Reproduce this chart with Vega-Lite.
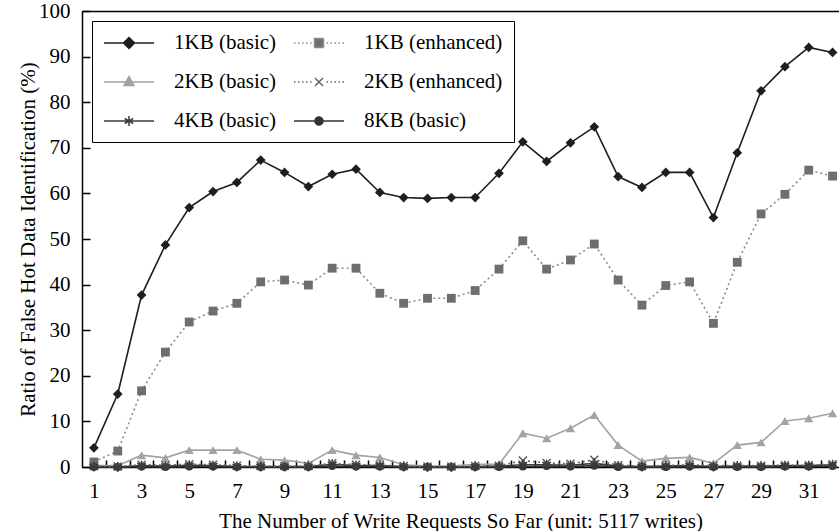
{
  "$schema": "https://vega.github.io/schema/vega-lite/v6.json",
  "width": 757,
  "height": 456,
  "autosize": {"type": "none"},
  "padding": {"left": 82, "top": 11, "right": 0, "bottom": 64},
  "background": "white",
  "config": {
    "font": "Liberation Serif",
    "view": {"stroke": null},
    "axis": {
      "labelFont": "Liberation Serif", "titleFont": "Liberation Serif",
      "labelFontSize": 21, "titleFontSize": 21, "labelColor": "black", "titleColor": "black",
      "titleFontWeight": "normal", "domainColor": "black", "domainWidth": 1.5,
      "tickColor": "black", "tickWidth": 1.5, "grid": false
    }
  },
  "data": {"values": [
    {"x": 1, "1KB (basic)": 4.2, "1KB (enhanced)": 1.1, "2KB (basic)": 0.3, "2KB (enhanced)": 0.2, "4KB (basic)": 0.1, "8KB (basic)": 0},
    {"x": 2, "1KB (basic)": 16.0, "1KB (enhanced)": 3.5, "2KB (basic)": 0.3, "2KB (enhanced)": 0.1, "4KB (basic)": 0, "8KB (basic)": 0},
    {"x": 3, "1KB (basic)": 37.7, "1KB (enhanced)": 16.7, "2KB (basic)": 2.6, "2KB (enhanced)": 0.5, "4KB (basic)": 0.3, "8KB (basic)": 0.1},
    {"x": 4, "1KB (basic)": 48.7, "1KB (enhanced)": 25.2, "2KB (basic)": 2.0, "2KB (enhanced)": 0.4, "4KB (basic)": 0.2, "8KB (basic)": 0},
    {"x": 5, "1KB (basic)": 56.9, "1KB (enhanced)": 31.8, "2KB (basic)": 3.7, "2KB (enhanced)": 0.6, "4KB (basic)": 0.4, "8KB (basic)": 0.1},
    {"x": 6, "1KB (basic)": 60.4, "1KB (enhanced)": 34.2, "2KB (basic)": 3.7, "2KB (enhanced)": 0.5, "4KB (basic)": 0.3, "8KB (basic)": 0.1},
    {"x": 7, "1KB (basic)": 62.4, "1KB (enhanced)": 35.9, "2KB (basic)": 3.7, "2KB (enhanced)": 0.3, "4KB (basic)": 0.1, "8KB (basic)": 0},
    {"x": 8, "1KB (basic)": 67.3, "1KB (enhanced)": 40.6, "2KB (basic)": 1.7, "2KB (enhanced)": 0.2, "4KB (basic)": 0.1, "8KB (basic)": 0},
    {"x": 9, "1KB (basic)": 64.6, "1KB (enhanced)": 41.0, "2KB (basic)": 1.5, "2KB (enhanced)": 0.2, "4KB (basic)": 0.1, "8KB (basic)": 0},
    {"x": 10, "1KB (basic)": 61.5, "1KB (enhanced)": 39.9, "2KB (basic)": 0.8, "2KB (enhanced)": 0.2, "4KB (basic)": 0.1, "8KB (basic)": 0},
    {"x": 11, "1KB (basic)": 64.2, "1KB (enhanced)": 43.6, "2KB (basic)": 3.7, "2KB (enhanced)": 0.8, "4KB (basic)": 0.6, "8KB (basic)": 0.2},
    {"x": 12, "1KB (basic)": 65.3, "1KB (enhanced)": 43.6, "2KB (basic)": 2.6, "2KB (enhanced)": 0.5, "4KB (basic)": 0.3, "8KB (basic)": 0.1},
    {"x": 13, "1KB (basic)": 60.2, "1KB (enhanced)": 38.1, "2KB (basic)": 2.1, "2KB (enhanced)": 0.4, "4KB (basic)": 0.3, "8KB (basic)": 0.1},
    {"x": 14, "1KB (basic)": 59.1, "1KB (enhanced)": 35.9, "2KB (basic)": 0.5, "2KB (enhanced)": 0.2, "4KB (basic)": 0.1, "8KB (basic)": 0},
    {"x": 15, "1KB (basic)": 58.9, "1KB (enhanced)": 37.0, "2KB (basic)": 0.2, "2KB (enhanced)": 0.1, "4KB (basic)": 0, "8KB (basic)": 0},
    {"x": 16, "1KB (basic)": 59.1, "1KB (enhanced)": 37.0, "2KB (basic)": 0.2, "2KB (enhanced)": 0.1, "4KB (basic)": 0, "8KB (basic)": 0},
    {"x": 17, "1KB (basic)": 59.1, "1KB (enhanced)": 38.7, "2KB (basic)": 0.6, "2KB (enhanced)": 0.2, "4KB (basic)": 0.1, "8KB (basic)": 0},
    {"x": 18, "1KB (basic)": 64.4, "1KB (enhanced)": 43.4, "2KB (basic)": 0.6, "2KB (enhanced)": 0.3, "4KB (basic)": 0.2, "8KB (basic)": 0},
    {"x": 19, "1KB (basic)": 71.3, "1KB (enhanced)": 49.6, "2KB (basic)": 7.4, "2KB (enhanced)": 1.4, "4KB (basic)": 0.5, "8KB (basic)": 0.1},
    {"x": 20, "1KB (basic)": 67.0, "1KB (enhanced)": 43.4, "2KB (basic)": 6.3, "2KB (enhanced)": 0.9, "4KB (basic)": 0.5, "8KB (basic)": 0.2},
    {"x": 21, "1KB (basic)": 71.1, "1KB (enhanced)": 45.4, "2KB (basic)": 8.5, "2KB (enhanced)": 0.7, "4KB (basic)": 0.4, "8KB (basic)": 0.1},
    {"x": 22, "1KB (basic)": 74.6, "1KB (enhanced)": 48.9, "2KB (basic)": 11.4, "2KB (enhanced)": 1.6, "4KB (basic)": 0.8, "8KB (basic)": 0.3},
    {"x": 23, "1KB (basic)": 63.7, "1KB (enhanced)": 41.0, "2KB (basic)": 4.8, "2KB (enhanced)": 0.4, "4KB (basic)": 0.2, "8KB (basic)": 0},
    {"x": 24, "1KB (basic)": 61.3, "1KB (enhanced)": 35.5, "2KB (basic)": 1.3, "2KB (enhanced)": 0.2, "4KB (basic)": 0.1, "8KB (basic)": 0},
    {"x": 25, "1KB (basic)": 64.6, "1KB (enhanced)": 39.8, "2KB (basic)": 1.9, "2KB (enhanced)": 0.3, "4KB (basic)": 0.2, "8KB (basic)": 0},
    {"x": 26, "1KB (basic)": 64.6, "1KB (enhanced)": 40.6, "2KB (basic)": 2.1, "2KB (enhanced)": 0.5, "4KB (basic)": 0.3, "8KB (basic)": 0.1},
    {"x": 27, "1KB (basic)": 54.7, "1KB (enhanced)": 31.5, "2KB (basic)": 0.8, "2KB (enhanced)": 0.3, "4KB (basic)": 0.1, "8KB (basic)": 0},
    {"x": 28, "1KB (basic)": 68.9, "1KB (enhanced)": 44.9, "2KB (basic)": 4.8, "2KB (enhanced)": 0.3, "4KB (basic)": 0.2, "8KB (basic)": 0},
    {"x": 29, "1KB (basic)": 82.5, "1KB (enhanced)": 55.5, "2KB (basic)": 5.4, "2KB (enhanced)": 0.3, "4KB (basic)": 0.2, "8KB (basic)": 0},
    {"x": 30, "1KB (basic)": 87.8, "1KB (enhanced)": 59.8, "2KB (basic)": 10.1, "2KB (enhanced)": 0.4, "4KB (basic)": 0.3, "8KB (basic)": 0.1},
    {"x": 31, "1KB (basic)": 92.0, "1KB (enhanced)": 65.1, "2KB (basic)": 10.7, "2KB (enhanced)": 0.4, "4KB (basic)": 0.3, "8KB (basic)": 0.1},
    {"x": 32, "1KB (basic)": 90.9, "1KB (enhanced)": 63.8, "2KB (basic)": 11.8, "2KB (enhanced)": 0.6, "4KB (basic)": 0.5, "8KB (basic)": 0.2}
  ]},
  "transform": [
    {"fold": ["1KB (basic)", "1KB (enhanced)", "2KB (basic)", "2KB (enhanced)", "4KB (basic)", "8KB (basic)"], "as": ["series", "value"]}
  ],
  "encoding": {
    "x": {"field": "x", "type": "quantitative", "scale": {"domain": [0.5, 32.27], "nice": false, "zero": false}},
    "y": {"field": "value", "type": "quantitative", "scale": {"domain": [0, 100], "nice": false}}
  },
  "layer": [
    {
      "transform": [{"filter": {"field": "series", "oneOf": ["1KB (basic)", "2KB (basic)", "4KB (basic)", "8KB (basic)"]}}],
      "mark": {"type": "line", "strokeWidth": 1.6},
      "encoding": {
        "x": {
          "field": "x", "type": "quantitative",
          "axis": {
            "orient": "bottom",
            "values": [1,3,5,7,9,11,13,15,17,19,21,23,25,27,29,31],
            "format": "d", "ticks": false, "labelOverlap": false, "labelFlush": false,
            "labelPadding": 13,
            "title": "The Number of Write Requests So Far (unit: 5117 writes)",
            "titlePadding": 9
          }
        },
        "y": {
          "field": "value", "type": "quantitative",
          "axis": {
            "values": [0,10,20,30,40,50,60,70,80,90,100],
            "tickSize": -8, "labelPadding": 20, "labelFlush": false,
            "title": "Ratio of False Hot Data Identification (%)",
            "titlePadding": 0
          }
        },
        "color": {
          "field": "series", "type": "nominal",
          "scale": {
            "domain": ["1KB (basic)", "1KB (enhanced)", "2KB (basic)", "2KB (enhanced)", "4KB (basic)", "8KB (basic)"],
            "range": ["#1e1e1e", "#8a8a8a", "#a3a3a3", "#666666", "#3c3c3c", "#333333"]
          },
          "legend": {
            "title": null, "orient": "top-left", "offset": 10, "columns": 2, "direction": "horizontal",
            "columnPadding": 14, "rowPadding": 18, "padding": 11,
            "strokeColor": "black", "fillColor": "white",
            "labelFont": "Liberation Serif", "labelFontSize": 21, "labelColor": "black",
            "symbolSize": 400, "labelOffset": 49, "symbolStrokeWidth": 1.5,
            "encode": {
              "symbols": {
                "update": {
                  "shape": {"signal": "datum.value === '1KB (basic)' ? 'M-1,0L4,0M0.95,0L1.5,-0.55L2.05,0L1.5,0.55Z' : datum.value === '1KB (enhanced)' ? 'M-1,0L-0.85,0M-0.6,0L-0.45,0M-0.2,0L-0.05,0M0.2,0L0.35,0M0.6,0L0.75,0M2.25,0L2.4,0M2.65,0L2.8,0M3.05,0L3.2,0M3.45,0L3.6,0M3.85,0L4,0M1.05,-0.45L1.95,-0.45L1.95,0.45L1.05,0.45Z' : datum.value === '2KB (basic)' ? 'M-1,0L4,0M1.5,-0.55L2,0.35L1,0.35Z' : datum.value === '2KB (enhanced)' ? 'M-1,0L-0.85,0M-0.6,0L-0.45,0M-0.2,0L-0.05,0M0.2,0L0.35,0M0.6,0L0.75,0M2.25,0L2.4,0M2.65,0L2.8,0M3.05,0L3.2,0M3.45,0L3.6,0M3.85,0L4,0M1.1,-0.4L1.9,0.4M1.1,0.4L1.9,-0.4' : datum.value === '4KB (basic)' ? 'M-1,0L4,0M1.5,-0.5L1.5,0.5M1.07,-0.25L1.93,0.25M1.07,0.25L1.93,-0.25' : 'M-1,0L4,0M1.9,0A0.4,0.4,0,1,1,1.1,0A0.4,0.4,0,1,1,1.9,0Z'"},
                  "fill": {"signal": "datum.value === '1KB (basic)' ? '#1e1e1e' : datum.value === '1KB (enhanced)' ? '#6e6e6e' : datum.value === '2KB (basic)' ? '#a3a3a3' : datum.value === '2KB (enhanced)' ? 'transparent' : datum.value === '4KB (basic)' ? 'transparent' : '#333333'"},
                  "stroke": {"signal": "datum.value === '1KB (basic)' ? '#1e1e1e' : datum.value === '1KB (enhanced)' ? '#6e6e6e' : datum.value === '2KB (basic)' ? '#a3a3a3' : datum.value === '2KB (enhanced)' ? '#555555' : datum.value === '4KB (basic)' ? '#3c3c3c' : '#333333'"},
                  "strokeWidth": {"value": 1.5},
                  "strokeDash": {"value": [1, 0]},
                  "opacity": {"value": 1}
                }
              }
            }
          }
        }
      }
    },
    {
      "transform": [{"filter": {"field": "series", "oneOf": ["1KB (enhanced)", "2KB (enhanced)"]}}],
      "mark": {"type": "line", "strokeWidth": 1.6, "strokeDash": [2, 3]},
      "encoding": {
        "x": {
          "field": "x", "type": "quantitative",
          "axis": {
            "orient": "bottom",
            "values": [1.5,2.5,3.5,4.5,5.5,6.5,7.5,8.5,9.5,10.5,11.5,12.5,13.5,14.5,15.5,16.5,17.5,18.5,19.5,20.5,21.5,22.5,23.5,24.5,25.5,26.5,27.5,28.5,29.5,30.5,31.5],
            "labels": false, "domain": false, "title": null, "tickSize": -7
          }
        },
        "color": {"field": "series", "type": "nominal"}
      }
    },
    {
      "transform": [{"filter": {"field": "series", "equal": "1KB (enhanced)"}}],
      "mark": {"type": "point", "shape": "square", "filled": true, "size": 78, "color": "#6e6e6e", "opacity": 1},
      "encoding": {
        "x": {"field": "x", "type": "quantitative", "axis": {"orient": "top", "labels": false, "ticks": false, "title": null, "domain": true}}
      }
    },
    {
      "transform": [{"filter": {"field": "series", "equal": "1KB (basic)"}}],
      "mark": {"type": "point", "shape": "diamond", "filled": true, "size": 95, "color": "#1e1e1e", "opacity": 1},
      "encoding": {"x": {"field": "x", "type": "quantitative", "axis": null}}
    },
    {
      "transform": [{"filter": {"field": "series", "equal": "2KB (basic)"}}],
      "mark": {"type": "point", "shape": "triangle-up", "filled": true, "size": 85, "color": "#a3a3a3", "opacity": 1},
      "encoding": {"x": {"field": "x", "type": "quantitative", "axis": null}}
    },
    {
      "transform": [{"filter": {"field": "series", "equal": "8KB (basic)"}}],
      "mark": {"type": "point", "shape": "circle", "filled": true, "size": 64, "color": "#333333", "opacity": 1},
      "encoding": {"x": {"field": "x", "type": "quantitative", "axis": null}}
    },
    {
      "transform": [{"filter": {"field": "series", "equal": "2KB (enhanced)"}}],
      "mark": {"type": "point", "shape": "M-1,-1L1,1M-1,1L1,-1", "filled": false, "size": 64, "strokeWidth": 1.4, "color": "#555555", "opacity": 1},
      "encoding": {"x": {"field": "x", "type": "quantitative", "axis": null}}
    },
    {
      "transform": [{"filter": {"field": "series", "equal": "4KB (basic)"}}],
      "mark": {"type": "point", "shape": "M0,-1L0,1M-0.87,-0.5L0.87,0.5M-0.87,0.5L0.87,-0.5", "filled": false, "size": 100, "strokeWidth": 1.5, "color": "#3c3c3c", "opacity": 1},
      "encoding": {"x": {"field": "x", "type": "quantitative", "axis": null}}
    }
  ],
  "resolve": {"axis": {"x": "independent"}}
}
